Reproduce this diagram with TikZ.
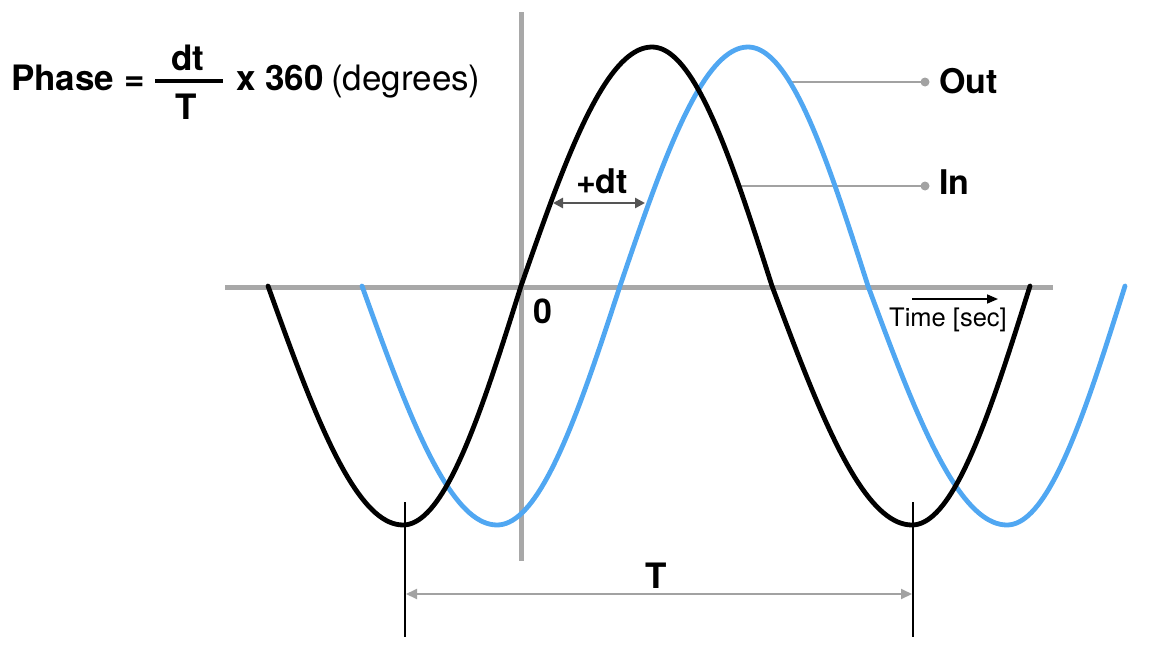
\documentclass[tikz,border=0pt]{standalone}
\usepackage{fontspec}
\setmainfont{TeX Gyre Heros}
\usetikzlibrary{arrows.meta}
\definecolor{axisgray}{RGB}{168,168,168}
\definecolor{sigblue}{RGB}{80,167,242}
\definecolor{leadgray}{RGB}{162,162,162}
\definecolor{dtgray}{RGB}{85,85,85}
\begin{document}
\begin{tikzpicture}[x=1pt,y=-1pt,
  axisline/.style={draw=axisgray,line width=5pt},
  sig/.style={draw=#1,line width=4.8pt,line join=round,line cap=round},
  leader/.style={draw=leadgray,line width=2pt},
  dotend/.style={circle,fill=leadgray,inner sep=0pt,minimum size=9pt},
  boldlbl/.style={font=\fontsize{34}{38}\selectfont\bfseries,inner sep=0pt},
  formula/.style={font=\fontsize{35}{40}\selectfont,inner sep=0pt},
  timelbl/.style={font=\fontsize{25.5}{28}\selectfont,inner sep=0pt},
  tick/.style={draw=black,line width=2pt},
  dim/.style={draw=leadgray,line width=2pt,{Triangle[length=11pt,width=10pt]}-{Triangle[length=11pt,width=10pt]}},
  dtarrow/.style={draw=dtgray,line width=2.5pt,{Triangle[length=10pt,width=10pt]}-{Triangle[length=10pt,width=10pt]}},
  timearrow/.style={draw=black,line width=1.6pt,-{Triangle[length=11pt,width=9pt]}}]
\useasboundingbox (0,0) rectangle (1154,656);
% axes
\coordinate (hl) at (225,287);
\coordinate (hr) at (1053,287);
\coordinate (vt) at (521,12);
\coordinate (vb) at (521,561);
\draw[axisline] (hl) -- (hr);
\draw[axisline] (vt) -- (vb);
% leader lines (under curves)
\coordinate (outc) at (792,82);
\coordinate (inc) at (741,186);
\node[dotend] (outdot) at (925,82) {};
\node[dotend] (indot) at (925,186) {};
\draw[leader] (outc) -- (outdot.center);
\draw[leader] (inc) -- (indot.center);
% blue curve
\draw[sig=sigblue] plot[domain=362:497,samples=40] (\x,{286+239*sin(90*(\x-362)/135)})
  -- plot[domain=497:620,samples=40] (\x,{286+239*cos(90*(\x-497)/123)})
  -- plot[domain=620:748,samples=40] (\x,{286-239*sin(90*(\x-620)/128)})
  -- plot[domain=748:868,samples=40] (\x,{286-239*cos(90*(\x-748)/120)})
  -- plot[domain=868:1007,samples=40] (\x,{286+239*sin(90*(\x-868)/139)})
  -- plot[domain=1007:1125,samples=40] (\x,{286+239*cos(90*(\x-1007)/118)});
% black curve
\draw[sig=black] plot[domain=268:403,samples=40] (\x,{286+239*sin(90*(\x-268)/135)})
  -- plot[domain=403:521,samples=40] (\x,{286+239*cos(90*(\x-403)/118)})
  -- plot[domain=521:652,samples=40] (\x,{286-239*sin(90*(\x-521)/131)})
  -- plot[domain=652:772,samples=40] (\x,{286-239*cos(90*(\x-652)/120)})
  -- plot[domain=772:912,samples=40] (\x,{286+239*sin(90*(\x-772)/140)})
  -- plot[domain=912:1030,samples=40] (\x,{286+239*cos(90*(\x-912)/118)});
% labels Out / In
\node[boldlbl,anchor=base west] (out) at (939,93) {Out};
\node[boldlbl,anchor=base west] (in) at (939,194) {In};
% +dt
\coordinate (dta) at (553,203);
\coordinate (dtb) at (645,203);
\draw[dtarrow] (dta) -- (dtb);
\node[boldlbl,anchor=base] (dt) at (602,193) {+dt};
% origin
\node[boldlbl,anchor=base] (zero) at (543,323) {0};
% time arrow
\coordinate (ta) at (912,299);
\coordinate (tb) at (998,299);
\draw[timearrow] (ta) -- (tb);
\node[timelbl,anchor=base] (time) at (948,326) {Time [sec]};
% period T
\coordinate (t1a) at (405,502);
\coordinate (t1b) at (405,637);
\coordinate (t2a) at (913,502);
\coordinate (t2b) at (913,637);
\draw[tick] (t1a) -- (t1b);
\draw[tick] (t2a) -- (t2b);
\coordinate (da) at (406,594);
\coordinate (db) at (912,594);
\draw[dim] (da) -- (db);
\node[boldlbl,anchor=base,font=\fontsize{35}{38}\selectfont\bfseries] (tlbl) at (656,588) {T};
% formula
\node[formula,anchor=base west] (phase) at (11,90) {\bfseries Phase =};
\coordinate (fa) at (155,81);
\coordinate (fb) at (223,81);
\draw[line width=4.5pt] (fa) -- (fb);
\node[formula,anchor=base] (num) at (188,70) {\bfseries dt};
\node[formula,anchor=base] (den) at (186,119) {\bfseries T};
\node[formula,anchor=base west] (x360) at (236,90) {\bfseries x 360};
\node[formula,anchor=base west] (deg) at (331,90) {(degrees)};
\end{tikzpicture}
\end{document}
